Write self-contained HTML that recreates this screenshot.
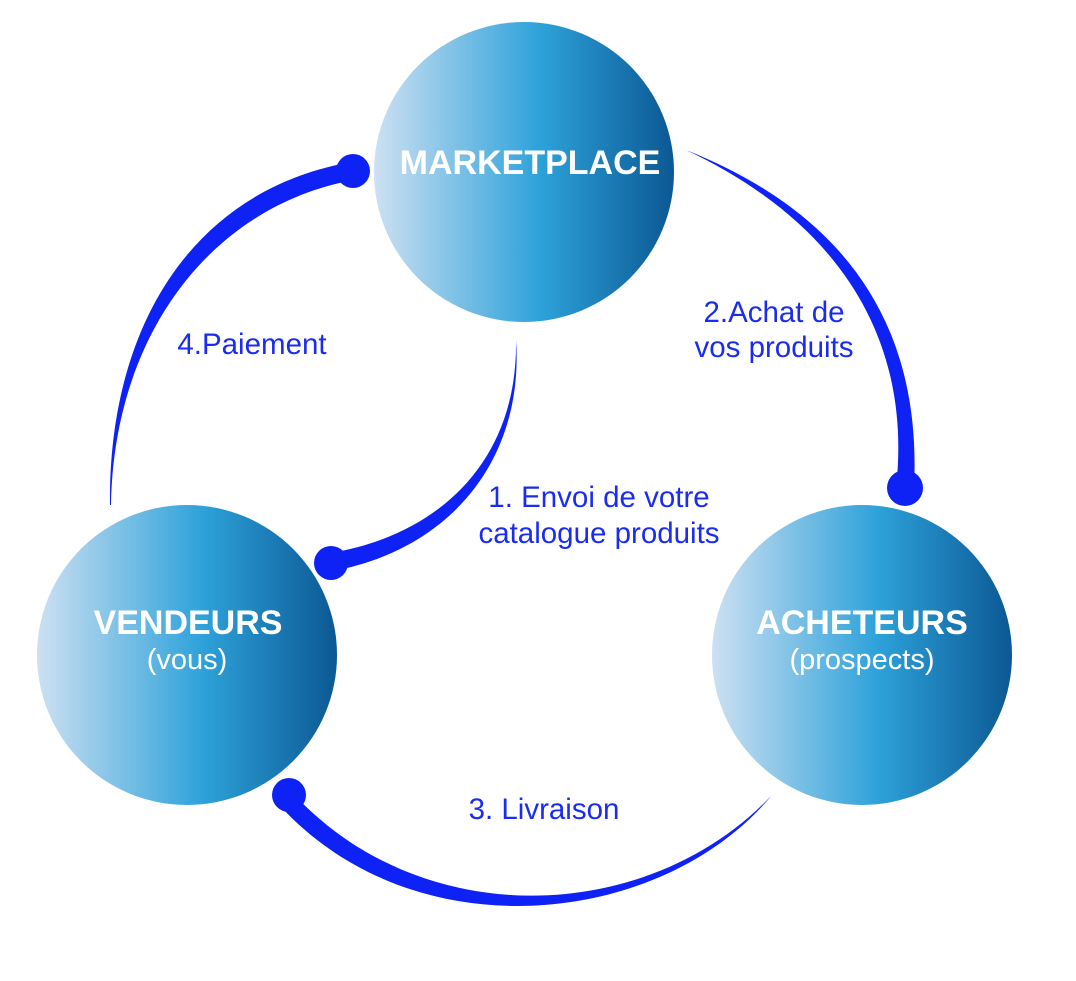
<!DOCTYPE html>
<html><head><meta charset="utf-8"><style>
html,body{margin:0;padding:0;background:#fff;}
svg{display:block;}
</style></head><body>
<svg width="1076" height="981" viewBox="0 0 1076 981" xmlns="http://www.w3.org/2000/svg">
<defs>
<linearGradient id="g" x1="0" y1="0" x2="1" y2="0">
<stop offset="0" stop-color="#cde0f2"/>
<stop offset="0.55" stop-color="#2ea2da"/>
<stop offset="1" stop-color="#0b5893"/>
</linearGradient>
</defs>
<circle cx="524" cy="172" r="150" fill="url(#g)"/>
<circle cx="187" cy="655" r="150" fill="url(#g)"/>
<circle cx="862" cy="655" r="150" fill="url(#g)"/>
<g fill="#0e22f5">
<path d="M110,505 C108,330 190,190 352,162 L354,180 C215,205 114,330 111,505 Z"/>
<circle cx="353" cy="171" r="17"/>
<path d="M516,340 C518,460 440,535 330,553 L333,571 C455,548 524,455 516,340 Z"/>
<circle cx="331" cy="563" r="17"/>
<path d="M686,150 C845,225 912,345 896,488 L914,488 C922,330 850,215 686,150 Z"/>
<circle cx="905" cy="488" r="18"/>
<path d="M772,795 C650,925 420,935 290,790 L282,808 C420,955 665,925 772,795 Z"/>
<circle cx="289" cy="795" r="17"/>
</g>
<g font-family="Liberation Sans, sans-serif" fill="#fff" text-anchor="middle">
<text x="530" y="174" font-size="34" font-weight="bold">MARKETPLACE</text>
<text x="188" y="634" font-size="34" font-weight="bold">VENDEURS</text>
<text x="187" y="669" font-size="29">(vous)</text>
<text x="862" y="634" font-size="34" font-weight="bold">ACHETEURS</text>
<text x="862" y="669" font-size="29">(prospects)</text>
</g>
<g font-family="Liberation Sans, sans-serif" fill="#1a2cf0" font-size="29.5" text-anchor="middle">
<text x="252" y="354">4.Paiement</text>
<text x="774" y="322">2.Achat de</text>
<text x="774" y="357">vos produits</text>
<text x="599" y="507">1. Envoi de votre</text>
<text x="599" y="543">catalogue produits</text>
<text x="544" y="819">3. Livraison</text>
</g>
</svg>
</body></html>
